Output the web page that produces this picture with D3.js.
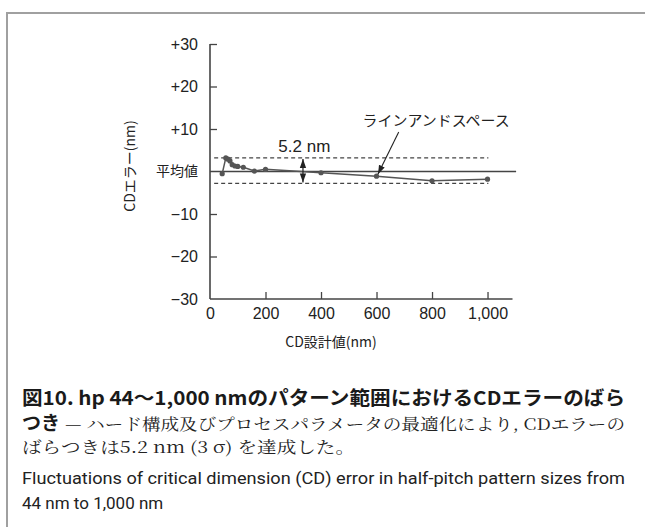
<!DOCTYPE html>
<html><head><meta charset="utf-8">
<script src="https://cdn.jsdelivr.net/npm/d3@7"></script>
<style>
html,body{margin:0;padding:0;background:#fff;}
svg{display:block;}
</style></head>
<body>
<svg id="chart" width="645" height="527"></svg>
<script>
// ---- data ----
const sizes  = [44, 57, 65, 72, 80, 90, 100, 120, 160, 200, 400, 600, 800, 1000];
const errors = [-0.5, 3.2, 2.9, 2.5, 1.6, 1.3, 1.2, 1.0, 0.1, 0.5, -0.3, -1.1, -2.2, -1.8];
const xTicks = [0, 200, 400, 600, 800, 1000];
const xTickLabels = ["0", "200", "400", "600", "800", "1,000"];
const yTicks = [30, 20, 10, 0, -10, -20, -30];
const yTickLabels = ["+30", "+20", "+10", "平均値", "\u221210", "\u221220", "\u221230"];
const bandUpper = 3.2;
const bandLower = -2.8;
const bandLabel = "5.2 nm";
const seriesLabel = "ラインアンドスペース";
const xTitle = "CD設計値(nm)";
const yTitle = "CDエラー(nm)";
const captionBold1 = "図10.  hp 44～1,000 nmのパターン範囲におけるCDエラーのばら";
const captionBold2 = "つき";
const captionRest2 = "— ハード構成及びプロセスパラメータの最適化により, CDエラーの";
const caption3 = "ばらつきは5.2 nm (3 σ) を達成した。";
const english1 = "Fluctuations of critical dimension (CD) error in half-pitch pattern sizes from";
const english2 = "44 nm to 1,000 nm";

const svg = d3.select("#chart");
const sans = "'Liberation Sans', Arial, 'Noto Sans CJK JP', sans-serif";

// frame
svg.append("line").attr("x1",7).attr("x2",645).attr("y1",13).attr("y2",13)
  .attr("stroke","#a0a0a0").attr("stroke-width",2);
svg.append("line").attr("x1",7).attr("x2",7).attr("y1",12).attr("y2",527)
  .attr("stroke","#a0a0a0").attr("stroke-width",2);

const x = d3.scaleLinear().domain([0, 1090]).range([210, 512.5]);
const y = d3.scaleLinear().domain([-30, 30]).range([299, 44]);

// axes
const xAxis = d3.axisBottom(x).tickValues(xTicks).tickSize(-7).tickPadding(9)
  .tickFormat((d,i)=>xTickLabels[i]);
const gx = svg.append("g").attr("transform",`translate(0,${y(-30)})`).call(xAxis);
gx.select(".domain").attr("d",`M${x(0)},0H${x(1090)}`);
gx.selectAll(".tick").filter(d=>d===0).select("line").remove();

const yAxis = d3.axisLeft(y).tickValues(yTicks).tickSize(-7).tickPadding(12)
  .tickFormat((d,i)=>yTickLabels[i]);
const gy = svg.append("g").attr("transform",`translate(${x(0)},0)`).call(yAxis);
gy.select(".domain").attr("d",`M0,${y(30)}V${y(-30)}`);
gy.selectAll(".tick").filter(d=>d===0||d===-30).select("line").remove();

[gx, gy].forEach(g=>{
  g.select(".domain").attr("stroke","#444").attr("stroke-width",1.6).attr("fill","none");
  g.selectAll(".tick line").attr("stroke","#444").attr("stroke-width",1.3);
  g.selectAll(".tick text").attr("fill","#222").attr("font-family",sans).attr("font-size",16);
});
gy.selectAll(".tick").filter(d=>d===0).select("text").attr("font-size",14)
  .attr("font-family","'Noto Sans CJK JP', sans-serif");

// axis titles
svg.append("text").attr("x",331).attr("y",347).attr("text-anchor","middle")
  .attr("font-family","'Noto Sans CJK JP', sans-serif").attr("font-size",14).attr("fill","#222")
  .text(xTitle);
svg.append("text").attr("transform",`translate(135,166) rotate(-90)`).attr("text-anchor","middle")
  .attr("font-family","'Noto Sans CJK JP', sans-serif").attr("font-size",14).attr("fill","#222")
  .text(yTitle);

// mean and band lines
svg.append("line").attr("x1",x(0)).attr("x2",x(1103)).attr("y1",y(0)).attr("y2",y(0))
  .attr("stroke","#444").attr("stroke-width",1.3);
[bandUpper, bandLower].forEach(v=>{
  svg.append("line").attr("x1",x(15)).attr("x2",x(1003)).attr("y1",y(v)).attr("y2",y(v))
    .attr("stroke","#444").attr("stroke-width",1.2).attr("stroke-dasharray","4,3");
});

// series
const line = d3.line().x((d,i)=>x(sizes[i])).y(d=>y(d));
svg.append("path").datum(errors).attr("d",line).attr("fill","none")
  .attr("stroke","#555").attr("stroke-width",1.5);
svg.selectAll("circle.pt").data(errors).enter().append("circle").attr("class","pt")
  .attr("cx",(d,i)=>x(sizes[i])).attr("cy",d=>y(d)).attr("r",2.6).attr("fill","#555");

// arrowheads
const defs = svg.append("defs");
defs.append("marker").attr("id","ah").attr("viewBox","0 0 10 10").attr("refX",10).attr("refY",5)
  .attr("markerWidth",9).attr("markerHeight",9).attr("orient","auto-start-reverse")
  .attr("markerUnits","userSpaceOnUse")
  .append("path").attr("d","M0,1.5L10,5L0,8.5z").attr("fill","#222");

// band double arrow
const ax = x(335);
svg.append("line").attr("x1",ax).attr("x2",ax).attr("y1",y(bandUpper)+1).attr("y2",y(bandLower)-1)
  .attr("stroke","#222").attr("stroke-width",1.2)
  .attr("marker-start","url(#ah)").attr("marker-end","url(#ah)");
svg.append("text").attr("x",x(340)).attr("y",y(bandUpper)-6).attr("text-anchor","middle")
  .attr("font-family",sans).attr("font-size",17).attr("fill","#222").text(bandLabel);

// series label + leader
svg.append("text").attr("x",x(550)).attr("y",126).attr("text-anchor","start")
  .attr("font-family","'Noto Sans CJK JP', sans-serif").attr("font-size",14.5).attr("fill","#222")
  .attr("textLength",147).attr("lengthAdjust","spacingAndGlyphs").text(seriesLabel);
svg.append("line").attr("x1",x(680)).attr("y1",132).attr("x2",x(605)).attr("y2",y(-1.1)-2)
  .attr("stroke","#222").attr("stroke-width",1.1).attr("marker-end","url(#ah)");

// caption
const cap = svg.append("g");
cap.append("text").attr("x",22).attr("y",405).attr("font-family","'Noto Sans CJK JP', sans-serif")
  .attr("font-weight","bold").attr("font-size",19).attr("fill","#1a1a1a")
  .attr("textLength",603).attr("lengthAdjust","spacingAndGlyphs").text(captionBold1);
cap.append("text").attr("x",22).attr("y",430).attr("font-family","'Noto Sans CJK JP', sans-serif")
  .attr("font-weight","bold").attr("font-size",19).attr("fill","#1a1a1a")
  .attr("textLength",38).attr("lengthAdjust","spacingAndGlyphs").text(captionBold2);
cap.append("text").attr("x",65).attr("y",430).attr("font-family","'Noto Serif CJK JP', 'DejaVu Serif', serif")
  .attr("font-size",16).attr("fill","#222")
  .attr("textLength",560).attr("lengthAdjust","spacingAndGlyphs").text(captionRest2);
cap.append("text").attr("x",22).attr("y",453).attr("font-family","'Noto Serif CJK JP', 'Liberation Serif', serif")
  .attr("font-size",16).attr("fill","#222")
  .attr("textLength",333).attr("lengthAdjust","spacingAndGlyphs").text(caption3);
cap.append("text").attr("x",22).attr("y",484).attr("font-family","Roboto, sans-serif")
  .attr("font-size",17).attr("fill","#222")
  .attr("textLength",603).attr("lengthAdjust","spacingAndGlyphs").text(english1);
cap.append("text").attr("x",22).attr("y",509).attr("font-family","Roboto, sans-serif")
  .attr("font-size",17).attr("fill","#222").text(english2);
</script>
</body></html>
